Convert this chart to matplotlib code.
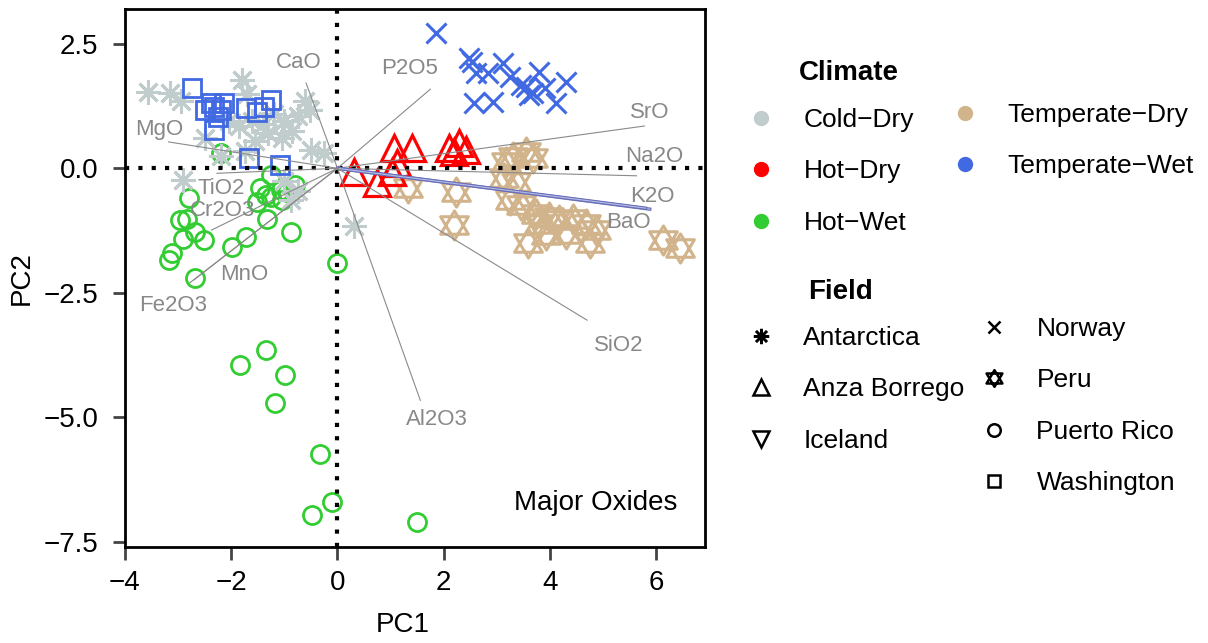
import numpy as np
import matplotlib
matplotlib.use('Agg')
import matplotlib.pyplot as plt
from matplotlib.lines import Line2D
from matplotlib.path import Path

plt.rcParams['font.family'] = ['Liberation Sans', 'DejaVu Sans']

# PCA scores (PC1, PC2)
antarctica_pc1 = [-3.56, -3.15, -2.95, -1.80, -1.70, -0.62, -0.51, -0.75, -1.00, -1.20, -1.40, -1.60, -1.85,
                  -2.05, -1.30, -1.05, -0.85, -1.55, -0.25, -2.90, -2.20, -1.75, -0.75, -1.00, 0.31, -2.50, -0.50, -0.88]
antarctica_pc2 = [1.54, 1.51, 1.35, 1.78, 1.50, 1.35, 1.17, 1.05, 0.95, 1.10, 0.90, 0.95, 0.85,
                  0.95, 0.70, 0.60, 0.75, 0.55, 0.30, -0.24, 0.25, 0.35, -0.45, -0.25, -1.15, 0.60, 0.37, -0.64]

anza_pc1 = [0.31, 0.75, 1.07, 1.13, 1.41, 2.10, 2.29, 2.42, 2.20, 1.03]
anza_pc2 = [-0.07, -0.30, 0.40, 0.10, 0.40, 0.40, 0.50, 0.37, 0.33, -0.07]

iceland_pc1 = []
iceland_pc2 = []

norway_pc1 = [1.85, 2.48, 2.54, 2.61, 3.11, 2.83, 3.24, 3.46, 3.55, 3.80, 3.68, 3.90, 4.31, 4.12, 2.58, 2.92, 3.61]
norway_pc2 = [2.71, 2.21, 2.14, 1.91, 2.11, 1.91, 1.84, 1.67, 1.64, 1.94, 1.51, 1.61, 1.74, 1.31, 1.31, 1.34, 1.47]

peru_pc1 = [1.32, 2.23, 2.20, 3.17, 3.30, 3.55, 3.68, 3.14, 3.24, 3.46, 3.74, 3.80, 3.99, 4.18, 4.43, 4.68,
            4.87, 3.58, 3.93, 4.31, 4.75, 6.13, 6.44, 3.36]
peru_pc2 = [-0.40, -0.47, -1.14, 0.13, 0.23, 0.33, 0.20, -0.20, -0.64, -0.74, -0.91, -1.11, -0.97, -1.04, -1.01, -1.11,
            -1.24, -1.51, -1.34, -1.31, -1.51, -1.44, -1.61, -0.27]

puerto_pc1 = [-2.20, -1.26, -1.45, -1.35, -1.07, -0.79, -0.95, -1.05, -1.51, -1.26, -2.80, -2.96, -2.83, -2.68,
              -2.52, -2.90, -3.12, -3.18, -2.68, -1.98, -1.73, -1.32, -0.88, 0.00,
              -1.34, -1.83, -0.98, -1.17, -0.32, -0.10, -0.48, 1.49]
puerto_pc2 = [0.30, -0.13, -0.40, -0.54, -0.44, -0.34, -0.47, -0.64, -0.67, -0.57, -0.60, -1.04, -1.01, -1.27,
              -1.44, -1.41, -1.71, -1.84, -2.21, -1.58, -1.37, -1.01, -1.27, -1.91,
              -3.64, -3.95, -4.16, -4.71, -5.73, -6.70, -6.97, -7.10]

washington_pc1 = [-2.74, -2.33, -2.49, -2.20, -2.24, -2.33, -1.73, -1.51, -1.39, -1.26, -1.67, -1.08, -2.39, -2.14]
washington_pc2 = [1.61, 1.24, 1.17, 1.17, 1.04, 0.77, 1.21, 1.14, 1.24, 1.37, 0.20, 0.07, 1.31, 1.31]

# oxide loadings (arrow tips)
oxides = ['CaO', 'P2O5', 'SrO', 'Na2O', 'K2O', 'BaO', 'SiO2', 'Al2O3', 'MgO', 'TiO2', 'Cr2O3', 'MnO', 'Fe2O3']
load_pc1 = [-0.59, 1.75, 5.78, 5.63, 5.88, 5.80, 4.70, 1.56, -3.18, -2.27, -2.37, -2.70, -2.78]
load_pc2 = [1.71, 1.59, 0.85, -0.15, -0.82, -0.80, -3.05, -4.66, 0.53, -0.10, -1.24, -2.24, -2.30]
label_offsets = [(-5, 15), (-15, 15), (4, 10), (13, 14), (2, 9), (-12, -10), (23, -18), (12, -14),
                 (-7, 9), (3, -11), (8, 14), (36, 4), (-12, -16)]

climate_names = ['Cold\u2212Dry', 'Hot\u2212Dry', 'Hot\u2212Wet', 'Temperate\u2212Dry', 'Temperate\u2212Wet']
climate_colors = ['#c1cdcd', '#ff0000', '#32cd32', '#d2b48c', '#4169e1']

# star of David marker (triangle up + triangle down)
star = Path([(0, 1), (-0.95, -0.6), (0.95, -0.6), (0, 1),
             (0, -1), (-0.95, 0.6), (0.95, 0.6), (0, -1)],
            [Path.MOVETO, Path.LINETO, Path.LINETO, Path.CLOSEPOLY,
             Path.MOVETO, Path.LINETO, Path.LINETO, Path.CLOSEPOLY])

fig = plt.figure(figsize=(12.08, 6.43), dpi=100)
ax = fig.add_axes([125 / 1208, 1 - 546.7 / 643, 580 / 1208, 537.7 / 643])

kw = dict(linestyle='none', markerfacecolor='none')
ax.plot(puerto_pc1, puerto_pc2, marker='o', ms=13, mew=2, color=climate_colors[2], **kw)
ax.plot(antarctica_pc1, antarctica_pc2, marker=(8, 2, 0), ms=18, mew=2.2, color=climate_colors[0], **kw)
ax.plot(washington_pc1, washington_pc2, marker='s', ms=12.5, mew=2, color=climate_colors[4], **kw)
ax.plot(norway_pc1, norway_pc2, marker='x', ms=15, mew=2.2, color=climate_colors[4], **kw)
ax.plot(peru_pc1, peru_pc2, marker=star, ms=21, mew=2.2, color=climate_colors[3], **kw)
ax.plot(anza_pc1, anza_pc2, marker='^', ms=19, mew=2.3, color=climate_colors[1], **kw)
ax.plot(iceland_pc1, iceland_pc2, marker='v', ms=19, mew=2.3, color=climate_colors[1], **kw)

# biplot arrows
for name, x, y, off in zip(oxides, load_pc1, load_pc2, label_offsets):
    if name in ('K2O', 'BaO'):
        ax.plot([0, x], [0, y], color='#6b6fb8', lw=2.4, zorder=4)
        ax.plot([0, x], [0, y], color='#b4bde8', lw=0.8, zorder=4)
    else:
        ax.plot([0, x], [0, y], color='#8a8a8a', lw=0.8, zorder=4)
    ax.annotate(name, (x, y), xytext=off, textcoords='offset points', ha='center', va='center',
                fontsize=16, color='#888888', zorder=5)

ax.axhline(0, color='black', lw=3, linestyle=(0, (1, 2.2)), zorder=3)
ax.axvline(0, color='black', lw=3, linestyle=(0, (1, 2.2)), zorder=3)

ax.text(0.953, 0.081, 'Major Oxides', transform=ax.transAxes, ha='right', va='center', fontsize=20)

ax.set_xlim(-4.0, 6.92)
ax.set_ylim(-7.60, 3.20)
ax.set_xticks([-4, -2, 0, 2, 4, 6])
ax.set_yticks([2.5, 0, -2.5, -5, -7.5])
ax.set_yticklabels(['2.5', '0.0', '\u22122.5', '\u22125.0', '\u22127.5'])
ax.tick_params(labelsize=20, length=9, width=2, color='#444444')
ax.tick_params(axis='x', pad=8)
ax.tick_params(axis='y', pad=10)
for s in ax.spines.values():
    s.set_linewidth(2)
ax.set_xlabel('PC1', fontsize=20, va='center', ha='center')
ax.set_ylabel('PC2', fontsize=20, va='center', ha='center')
ax.xaxis.set_label_coords(0.479, -0.1456)
ax.yaxis.set_label_coords(-0.178, 0.5)

# legends
fs = 19
common = dict(frameon=False, fontsize=fs, borderpad=0, borderaxespad=0, handlelength=1.0,
              handletextpad=1.1, labelspacing=1.04, loc='upper left')

def dot(c):
    return Line2D([], [], marker='o', linestyle='none', color=c, ms=10)

fig.legend([dot(c) for c in climate_colors[:3]], climate_names[:3],
           bbox_to_anchor=(748 / 1208, 1 - 108 / 643), **common)
fig.legend([dot(c) for c in climate_colors[3:]], climate_names[3:],
           bbox_to_anchor=(952 / 1208, 1 - 103 / 643), **common)

def sym(m, ms=9):
    return Line2D([], [], marker=m, linestyle='none', color='black', markerfacecolor='none', ms=ms, mew=1.8)

fig.legend([sym((8, 2, 0), 11), sym('^', 11), sym('v', 11)], ['Antarctica', 'Anza Borrego', 'Iceland'],
           bbox_to_anchor=(748 / 1208, 1 - 326 / 643), **common)
fig.legend([sym('x', 9), sym(star, 12), sym('o', 9), sym('s', 9)], ['Norway', 'Peru', 'Puerto Rico', 'Washington'],
           bbox_to_anchor=(981 / 1208, 1 - 317 / 643), **common)

fig.text(799 / 1208, 1 - 73 / 643, 'Climate', fontsize=20, fontweight='bold', va='center')
fig.text(808 / 1208, 1 - 292 / 643, 'Field', fontsize=20, fontweight='bold', va='center')

fig.savefig('out.png', dpi=100)
